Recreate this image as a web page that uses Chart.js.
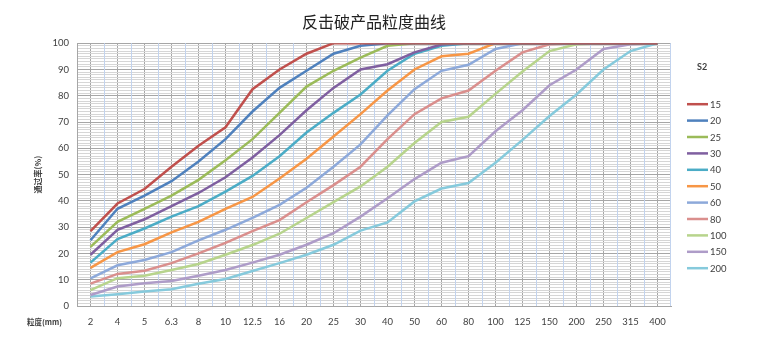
<!DOCTYPE html>
<html>
<head>
<meta charset="utf-8">
<script src="https://cdn.jsdelivr.net/npm/chart.js@4"></script>
<style>
  html, body { margin: 0; padding: 0; background: #fff; }
</style>
</head>
<body>
<canvas id="gradingChart" width="760" height="341"></canvas>
<script>
// sieve sizes (mm) along the bottom
const sizes = ["2", "4", "5", "6.3", "8", "10", "12.5", "16", "20", "25", "30",
  "40", "50", "60", "80", "100", "125", "150", "200", "250", "315", "400"];

const legendTitle = "S2";
const seriesNames = ["15", "20", "25", "30", "40", "50", "60", "80", "100", "150", "200"];

// passing percentage per sieve size
const pass15 = [28.5, 39, 44.5, 53, 61, 68, 82.5, 90, 96, 100, 100, 100, 100, 100, 100, 100, 100, 100, 100, 100, 100, 100];
const pass20 = [25, 37, 42, 47.5, 55, 63.5, 74, 83, 89.5, 96, 99, 100, 100, 100, 100, 100, 100, 100, 100, 100, 100, 100];
const pass25 = [22.5, 32, 37, 42, 48, 55.5, 63.5, 73.5, 83.5, 89.5, 94.5, 99, 100, 100, 100, 100, 100, 100, 100, 100, 100, 100];
const pass30 = [19.5, 29, 33, 38, 43, 49, 56.5, 65, 74.5, 83, 90, 92, 96.5, 99.5, 100, 100, 100, 100, 100, 100, 100, 100];
const pass40 = [16.5, 25.5, 29.5, 34, 38, 43.5, 49.5, 57, 66, 73.5, 80.5, 89.5, 96, 99, 100, 100, 100, 100, 100, 100, 100, 100];
const pass50 = [14.5, 20.5, 23.5, 28, 32, 37, 41.5, 48.5, 56, 64.5, 73, 82, 90, 95, 96, 100, 100, 100, 100, 100, 100, 100];
const pass60 = [10.5, 15.5, 17.5, 20.5, 25, 29, 33.5, 38.5, 45, 53, 61.5, 72.5, 82.5, 89.5, 91.8, 97.8, 100, 100, 100, 100, 100, 100];
const pass80 = [8.5, 12.2, 13.4, 16.3, 20, 24, 28.5, 32.7, 39.5, 46, 53, 63.5, 73, 79, 82, 89.5, 96.5, 99.6, 100, 100, 100, 100];
const pass100 = [6, 10.6, 11.5, 13.7, 16, 19.5, 23.2, 27.5, 33.5, 39.5, 45.5, 53, 62, 70, 72, 80.7, 89.2, 97, 99.6, 100, 100, 100];
const pass150 = [4.2, 7.4, 8.7, 9.5, 11.5, 13.7, 16.5, 19.5, 23.3, 27.7, 34, 41, 48.3, 54.5, 57, 66.5, 74.5, 84, 90, 97.8, 99.6, 100];
const pass200 = [3.6, 4.5, 5.5, 6.4, 8.5, 10.3, 13.3, 16.3, 19.5, 23.3, 28.7, 31.8, 39.8, 44.7, 46.8, 54.5, 63.2, 72.3, 80.5, 90, 97, 100];

const allSeries = [pass15, pass20, pass25, pass30, pass40, pass50, pass60, pass80, pass100, pass150, pass200];
const lineColors = ["#C0504D", "#4F81BD", "#9BBB59", "#7F5FA0", "#4BACC6", "#F79646",
  "#8DA9DA", "#DA8F8D", "#B7D48C", "#AE9CC8", "#86CADC"];

const TEXT = "#404040";
const TICK_FONT = { family: "Lato, 'Liberation Sans', sans-serif", size: 9.5 };

// light blue lines between the size columns
const columnLines = {
  id: "columnLines",
  beforeDatasetsDraw(chart) {
    const x = chart.scales.x, area = chart.chartArea, ctx = chart.ctx;
    ctx.save();
    ctx.strokeStyle = "#C2D3EE";
    ctx.lineWidth = 1;
    for (let i = 1; i <= sizes.length; i++) {
      const px = i === sizes.length ? area.right - 0.5
        : (x.getPixelForValue(i - 1) + x.getPixelForValue(i)) / 2;
      const p = Math.round(px - 0.5) + 0.5;
      ctx.beginPath();
      ctx.moveTo(p, area.top);
      ctx.lineTo(p, area.bottom);
      ctx.stroke();
    }
    ctx.restore();
  }
};

// legend on the right plus the size caption left of the x labels
const sideText = {
  id: "sideText",
  afterDraw(chart) {
    const ctx = chart.ctx, area = chart.chartArea;
    ctx.save();
    ctx.textBaseline = "middle";
    ctx.fillStyle = TEXT;

    const lx = area.right + 16;
    ctx.font = "bold 9px Lato, sans-serif";
    ctx.fillText(legendTitle, lx + 10, area.top + 24);
    ctx.font = "9.5px Lato, sans-serif";
    chart.data.datasets.forEach((ds, i) => {
      const y = area.top + 61 + i * 16.4;
      ctx.strokeStyle = ds.borderColor;
      ctx.lineWidth = 2.5;
      ctx.beginPath();
      ctx.moveTo(lx, y);
      ctx.lineTo(lx + 21, y);
      ctx.stroke();
      ctx.fillText(ds.label, lx + 23, y + 0.5);
    });

    ctx.font = "bold 7.5px 'Noto Sans CJK SC', sans-serif";
    ctx.fillText("粒度(mm)", area.left - 50, chart.scales.x.top + 16);
    ctx.restore();
  }
};

new Chart(document.getElementById("gradingChart"), {
  type: "line",
  data: {
    labels: sizes,
    datasets: seriesNames.map((name, i) => ({
      label: name,
      data: allSeries[i],
      borderColor: lineColors[i],
      backgroundColor: lineColors[i],
      borderWidth: 2.5,
      pointRadius: 0,
      tension: 0,
    })),
  },
  options: {
    responsive: false,
    animation: false,
    devicePixelRatio: 1,
    layout: { padding: { left: 0, right: 89, top: 0, bottom: 0 } },
    plugins: {
      legend: { display: false },
      tooltip: { enabled: false },
      title: {
        display: true,
        text: "反击破产品粒度曲线",
        fullSize: false,
        color: "#222",
        font: { family: "'Noto Sans CJK SC', sans-serif", size: 16, weight: "normal" },
        padding: { top: 12, bottom: 12 },
      },
    },
    scales: {
      x: {
        offset: true,
        afterFit(scale) { scale.height = 35; },
        grid: { offset: false, color: "#A6A6A6", drawTicks: false },
        border: { color: "#A6A6A6" },
        ticks: { color: TEXT, font: TICK_FONT, padding: 10, autoSkip: false, maxRotation: 0 },
      },
      y: {
        min: 0,
        max: 100,
        afterFit(scale) { scale.width = 77; },
        grid: {
          drawTicks: false,
          color: (c) => (c.tick && c.tick.value % 10 === 0 ? "#A6A6A6" : "#D6D6D6"),
        },
        border: { color: "#A6A6A6" },
        ticks: {
          stepSize: 1,
          maxTicksLimit: 101,
          autoSkip: false,
          padding: 8,
          color: TEXT,
          font: TICK_FONT,
          callback: (v) => (v % 10 === 0 ? v : ""),
        },
        title: {
          display: true,
          text: "通过率(%)",
          color: TEXT,
          font: { family: "'Noto Sans CJK SC', sans-serif", size: 8, weight: "bold" },
          padding: { top: 33, bottom: 0 },
        },
      },
    },
  },
  plugins: [columnLines, sideText],
});
</script>
</body>
</html>
